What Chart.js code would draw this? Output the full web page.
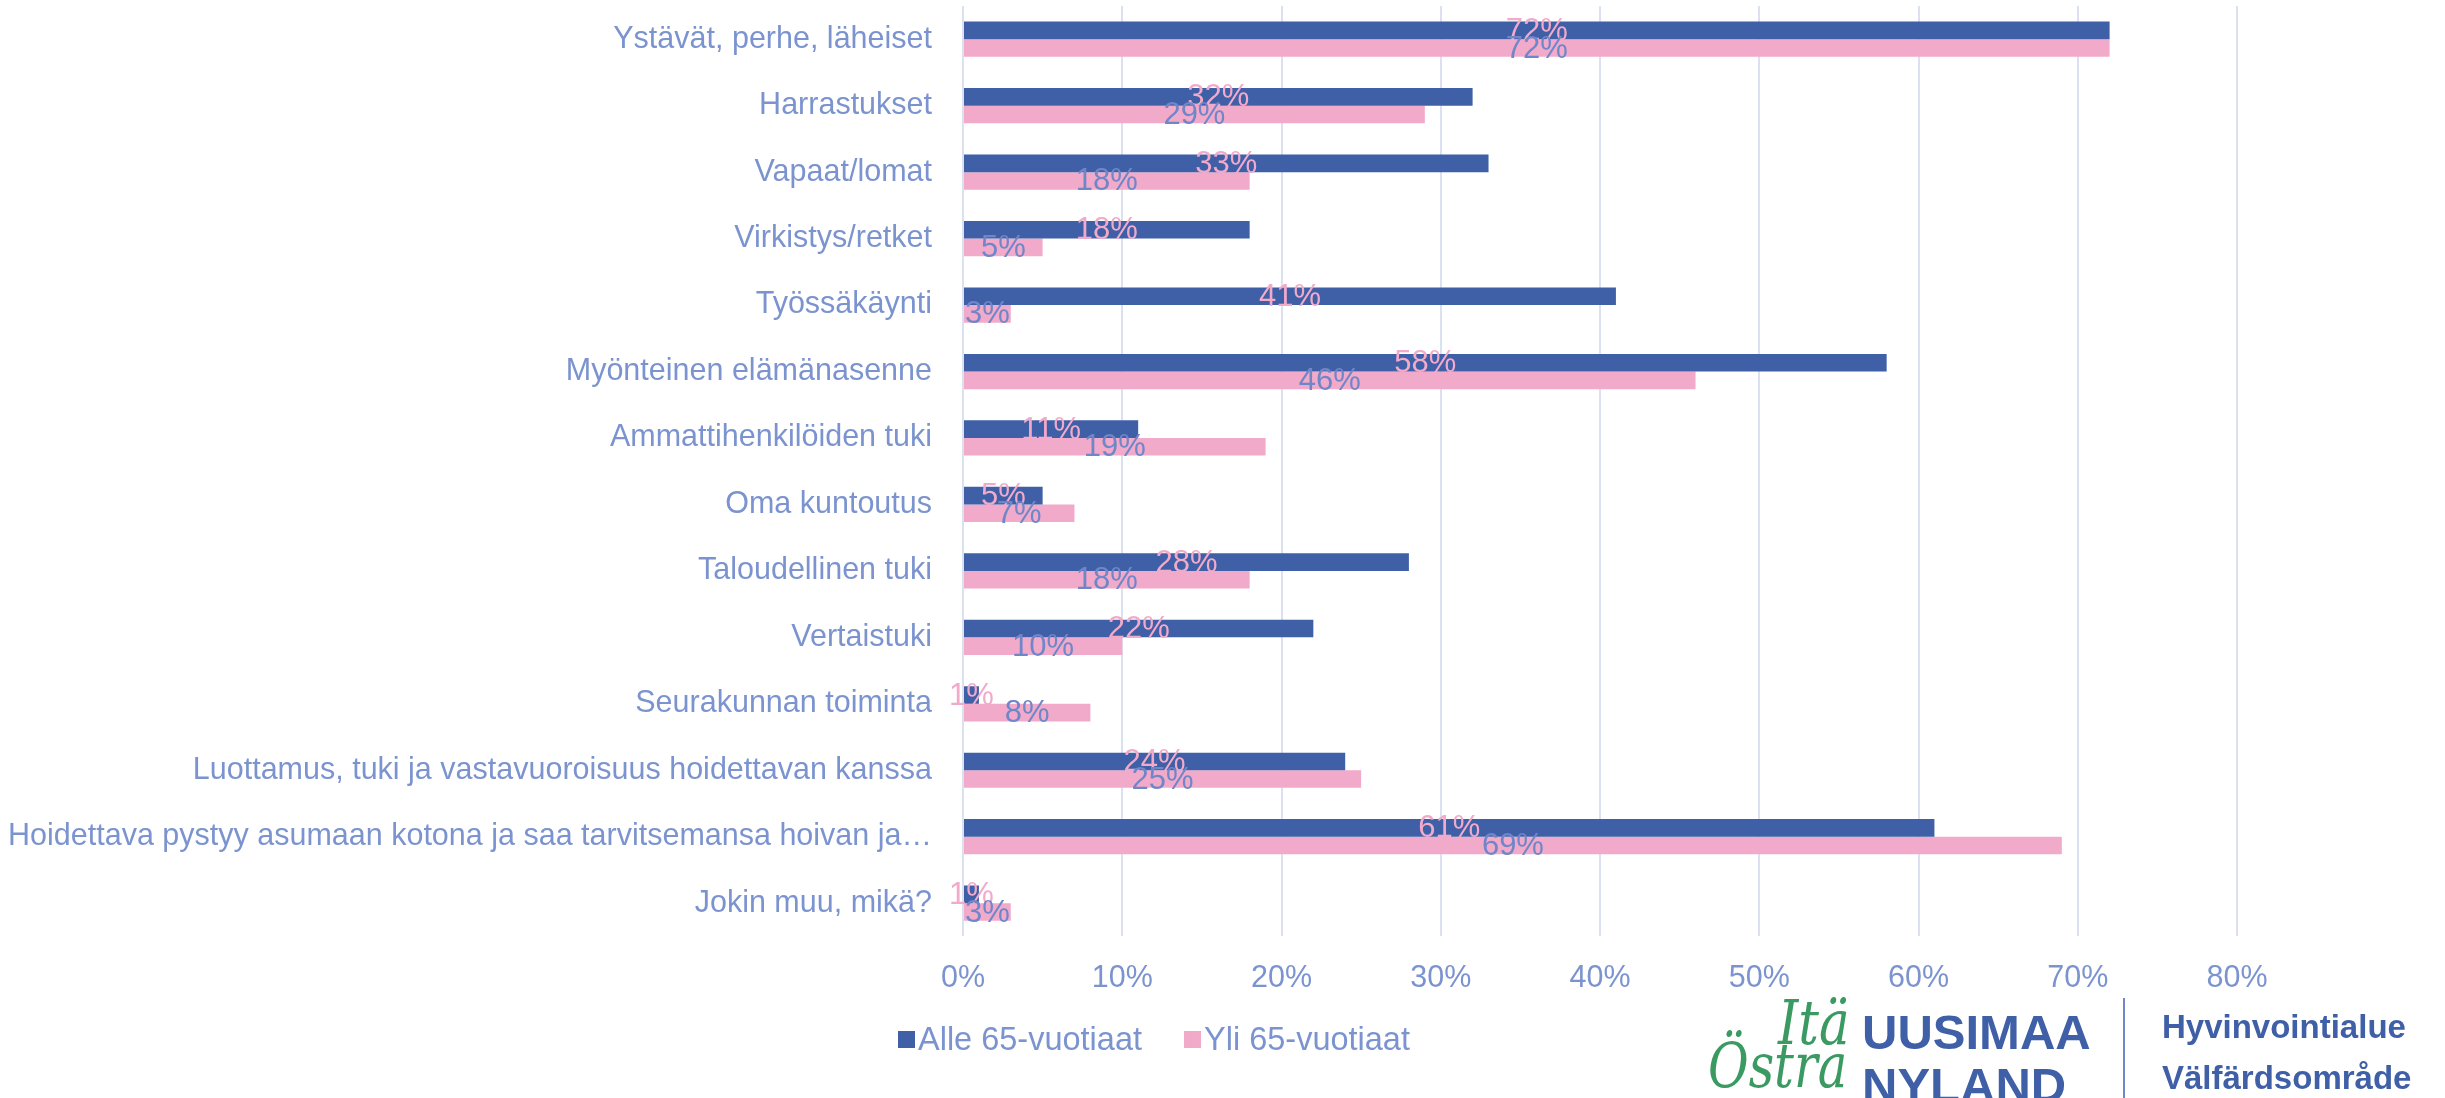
<!DOCTYPE html>
<html>
<head>
<meta charset="utf-8">
<script src="https://cdn.jsdelivr.net/npm/chart.js@4.4.1/dist/chart.umd.min.js"></script>
<style>
  html, body { margin: 0; padding: 0; background: #fff; overflow: hidden; }
  #wrap { position: relative; width: 2445px; height: 1098px; }
  #logo div { position: absolute; white-space: nowrap; line-height: 1; }
  .script { font-family: "DejaVu Serif", serif; font-style: italic; color: #3a9a62; font-size: 62px; transform-origin: left top; }
  .big { font-family: "Liberation Sans", Arial, sans-serif; font-weight: bold; color: #3f5fa6; font-size: 49px; }
  .small { font-family: "Liberation Sans", Arial, sans-serif; font-weight: bold; color: #3f5fa6; font-size: 33px; }
</style>
</head>
<body>
<div id="wrap">
  <canvas id="chart" width="2445" height="1098"></canvas>
  <div id="logo">
    <div class="script" style="left:1778px; top:992px; transform:scaleX(0.83);">Itä</div>
    <div class="script" style="left:1708px; top:1035px; transform:scaleX(0.8);">Östra</div>
    <div class="big" style="left:1862px; top:1008px;">UUSIMAA</div>
    <div class="big" style="left:1862px; top:1061px;">NYLAND</div>
    <div style="left:2123px; top:998px; width:2px; height:100px; background:#6f86c8;"></div>
    <div class="small" style="left:2162px; top:1010px;">Hyvinvointialue</div>
    <div class="small" style="left:2162px; top:1061px;">Välfärdsområde</div>
  </div>
</div>
<script>
const categories = [
  'Ystävät, perhe, läheiset',
  'Harrastukset',
  'Vapaat/lomat',
  'Virkistys/retket',
  'Työssäkäynti',
  'Myönteinen elämänasenne',
  'Ammattihenkilöiden tuki',
  'Oma kuntoutus',
  'Taloudellinen tuki',
  'Vertaistuki',
  'Seurakunnan toiminta',
  'Luottamus, tuki ja vastavuoroisuus hoidettavan kanssa',
  'Hoidettava pystyy asumaan kotona ja saa tarvitsemansa hoivan ja…',
  'Jokin muu, mikä?'
];
const alle65 = [72, 32, 33, 18, 41, 58, 11, 5, 28, 22, 1, 24, 61, 1];
const yli65 = [72, 29, 18, 5, 3, 46, 19, 7, 18, 10, 8, 25, 69, 3];
const xTicks = [0, 10, 20, 30, 40, 50, 60, 70, 80];

const FONT = '"Liberation Sans", Arial, sans-serif';
const FSIZE = 30.5;
const textColor = '#7b93cf';
const blue = '#3f5fa6';
const pink = '#f2aacb';

// value labels sit in the middle of each bar, colours swapped like the original
const barLabels = {
  id: 'barLabels',
  afterDatasetsDraw(chart) {
    const ctx = chart.ctx;
    const labelColors = [pink, '#6f86c8'];
    ctx.save();
    ctx.font = '31px ' + FONT;
    ctx.textAlign = 'center';
    ctx.textBaseline = 'middle';
    chart.data.datasets.forEach((ds, i) => {
      const meta = chart.getDatasetMeta(i);
      ctx.fillStyle = labelColors[i];
      meta.data.forEach((bar, j) => {
        const cx = (bar.x + bar.base) / 2;
        ctx.fillText(ds.data[j] + '%', cx, bar.y + 1);
      });
    });
    ctx.restore();
  }
};

const legendRow = {
  id: 'legendRow',
  afterDraw(chart) {
    const ctx = chart.ctx;
    let x = 898;
    const y = 1040;
    ctx.save();
    ctx.font = '32.5px ' + FONT;
    ctx.textBaseline = 'middle';
    chart.data.datasets.forEach(ds => {
      ctx.fillStyle = ds.backgroundColor;
      ctx.fillRect(x, y - 9, 17, 17);
      ctx.fillStyle = textColor;
      ctx.fillText(ds.label, x + 20, y + 1);
      x += 20 + ctx.measureText(ds.label).width + 42;
    });
    ctx.restore();
  }
};

new Chart(document.getElementById('chart'), {
  type: 'bar',
  data: {
    labels: categories,
    datasets: [
      { label: 'Alle 65-vuotiaat', data: alle65, backgroundColor: blue },
      { label: 'Yli 65-vuotiaat', data: yli65, backgroundColor: pink }
    ]
  },
  options: {
    indexAxis: 'y',
    responsive: false,
    animation: false,
    categoryPercentage: 0.53,
    barPercentage: 1,
    layout: { padding: { top: 6, right: 208, bottom: 77, left: 0 } },
    plugins: {
      legend: { display: false },
      tooltip: { enabled: false }
    },
    scales: {
      x: {
        min: 0,
        max: 80,
        afterBuildTicks: scale => { scale.ticks = xTicks.map(v => ({ value: v })); },
        grid: { color: '#dce1f2', lineWidth: 2, drawTicks: false },
        border: { display: false },
        ticks: {
          padding: 24,
          color: textColor,
          font: { family: FONT, size: FSIZE },
          callback: v => v + '%'
        }
      },
      y: {
        afterFit: scale => {
          scale.width = 963;
          scale.paddingTop = 0;
          scale.paddingBottom = 0;
        },
        grid: { display: false, drawTicks: false },
        border: { display: false },
        ticks: {
          padding: 31,
          autoSkip: false,
          color: textColor,
          font: { family: FONT, size: FSIZE }
        }
      }
    }
  },
  plugins: [barLabels, legendRow]
});
</script>
</body>
</html>
